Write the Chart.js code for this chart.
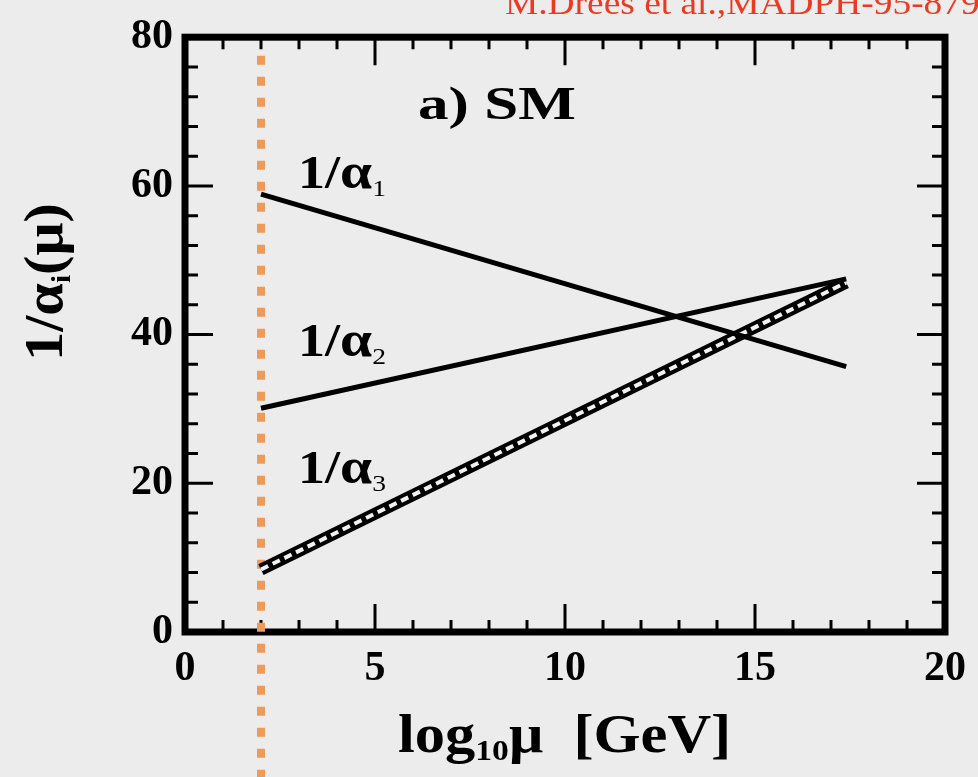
<!DOCTYPE html>
<html>
<head>
<meta charset="utf-8">
<script src="https://cdn.jsdelivr.net/npm/chart.js@4.4.1/dist/chart.umd.min.js"></script>
<style>
    body { margin: 0; background: #ececec; }
    canvas { display: block; }
</style>
</head>
<body>
<canvas id="graficoAcoplamentos" width="978" height="777"></canvas>
<script>
// values (x = log10 mu in GeV)
var mu = [2.0, 17.4];
var invAlpha1 = [58.9, 35.7];
var invAlpha2 = [30.1, 47.5];
var invAlpha3 = [8.4, 47.0];
var muZ = 2.0;
var linhaMzY = [77.5, -20];

var xTicks = [0, 5, 10, 15, 20];
var yTicks = [0, 20, 40, 60, 80];
var xMinorStep = 1;
var yMinorStep = 4;

var fonteSerif = "'Liberation Serif', 'Times New Roman', serif";

function Pontos(xs, ys) {
    var pts = [];
    var indice = 0;
    while (indice < xs.length) {
        pts.push({ x: xs[indice], y: ys[indice] });
        indice++;
    }
    return pts;
}

function Texto(ctx, partes, x, y, esticar) {
    // partes: [text, size, baselineShift, weight]
    ctx.save();
    ctx.translate(x, y);
    ctx.scale(esticar, 1);
    var cx = 0;
    partes.forEach(function (p) {
        ctx.font = (p[3] || 'bold') + ' ' + p[1] + 'px ' + fonteSerif;
        ctx.fillText(p[0], cx, p[2]);
        cx += ctx.measureText(p[0]).width;
    });
    ctx.restore();
}

var moldura = {
    id: 'moldura',
    beforeDatasetsDraw: function (chart) {
        var ctx = chart.ctx;
        var a = chart.chartArea;
        var sx = chart.scales.x;
        var sy = chart.scales.y;
        ctx.save();
        ctx.strokeStyle = '#000';
        ctx.lineWidth = 3;
        var v, px, len;
        for (v = sx.min; v <= sx.max; v += xMinorStep) {
            px = sx.getPixelForValue(v);
            len = (xTicks.indexOf(v) >= 0) ? 28 : 12;
            ctx.beginPath();
            ctx.moveTo(px, a.bottom); ctx.lineTo(px, a.bottom - len);
            ctx.moveTo(px, a.top); ctx.lineTo(px, a.top + len);
            ctx.stroke();
        }
        for (v = sy.min; v <= sy.max; v += yMinorStep) {
            px = sy.getPixelForValue(v);
            len = (yTicks.indexOf(v) >= 0) ? 28 : 13;
            ctx.beginPath();
            ctx.moveTo(a.left, px); ctx.lineTo(a.left + len, px);
            ctx.moveTo(a.right, px); ctx.lineTo(a.right - len, px);
            ctx.stroke();
        }
        ctx.lineWidth = 7;
        ctx.strokeRect(a.left, a.top, a.right - a.left, a.bottom - a.top);
        ctx.restore();
    },
    afterDraw: function (chart) {
        var ctx = chart.ctx;
        ctx.save();
        ctx.fillStyle = '#000';
        ctx.textBaseline = 'alphabetic';

        Texto(ctx, [['a) SM', 47, 0]], 418, 119, 1.3);
        Texto(ctx, [['1/', 47, 0], ['\u03b1', 50, 0], ['1', 24, 8, 'normal']], 298, 188, 1.15);
        Texto(ctx, [['1/', 47, 0], ['\u03b1', 50, 0], ['2', 24, 8, 'normal']], 298, 356, 1.15);
        Texto(ctx, [['1/', 47, 0], ['\u03b1', 50, 0], ['3', 24, 8, 'normal']], 298, 483, 1.15);

        // x axis title
        Texto(ctx, [['log', 54, 0], ['10', 30, 8], ['\u03bc', 54, 0], ['  [GeV]', 54, 0]], 398, 752, 1.12);

        // y axis title
        ctx.save();
        ctx.translate(62, 361);
        ctx.rotate(-Math.PI / 2);
        Texto(ctx, [['1/', 54, 0], ['\u03b1', 54, 0], ['i', 27, 8], ['(\u03bc)', 54, 0]], 0, 0, 1.08);
        ctx.restore();

        ctx.fillStyle = '#ec3a22';
        Texto(ctx, [['M.Drees et al.,MADPH-95-879', 34, 0, 'normal']], 505, 14, 1.1);
        ctx.restore();
    }
};

var ctx = document.getElementById('graficoAcoplamentos').getContext('2d');

var grafico = new Chart(ctx, {
    type: 'scatter',
    data: {
        datasets: [
            {
                label: '1/alpha1',
                data: Pontos(mu, invAlpha1),
                showLine: true,
                borderColor: '#000',
                borderWidth: 5,
                pointRadius: 0
            },
            {
                label: '1/alpha2',
                data: Pontos(mu, invAlpha2),
                showLine: true,
                borderColor: '#000',
                borderWidth: 5,
                pointRadius: 0
            },
            {
                label: '1/alpha3 miolo',
                data: Pontos(mu, invAlpha3),
                showLine: true,
                borderColor: '#f2f2f2',
                borderWidth: 4,
                borderDash: [8, 5],
                pointRadius: 0
            },
            {
                label: '1/alpha3',
                data: Pontos(mu, invAlpha3),
                showLine: true,
                borderColor: '#000',
                borderWidth: 12,
                pointRadius: 0
            },
            {
                label: 'MZ',
                data: Pontos([muZ, muZ], linhaMzY),
                showLine: true,
                borderColor: '#ef9a58',
                borderWidth: 8,
                borderDash: [9, 12],
                pointRadius: 0,
                clip: false
            }
        ]
    },
    options: {
        responsive: false,
        animation: false,
        layout: { padding: { top: 34, right: 26, left: 0, bottom: 0 } },
        plugins: {
            legend: { display: false },
            tooltip: { enabled: false }
        },
        scales: {
            x: {
                type: 'linear',
                min: 0,
                max: 20,
                grid: { display: false, drawTicks: false },
                border: { display: false },
                ticks: {
                    stepSize: 5,
                    padding: 12,
                    color: '#000',
                    font: { family: fonteSerif, weight: 'bold', size: 42 }
                },
                afterFit: function (s) { s.height = 145; }
            },
            y: {
                min: 0,
                max: 80,
                grid: { display: false, drawTicks: false },
                border: { display: false },
                ticks: {
                    stepSize: 20,
                    padding: 12,
                    color: '#000',
                    font: { family: fonteSerif, weight: 'bold', size: 42 }
                },
                afterFit: function (s) { s.width = 185; }
            }
        }
    },
    plugins: [moldura]
});
</script>
</body>
</html>
